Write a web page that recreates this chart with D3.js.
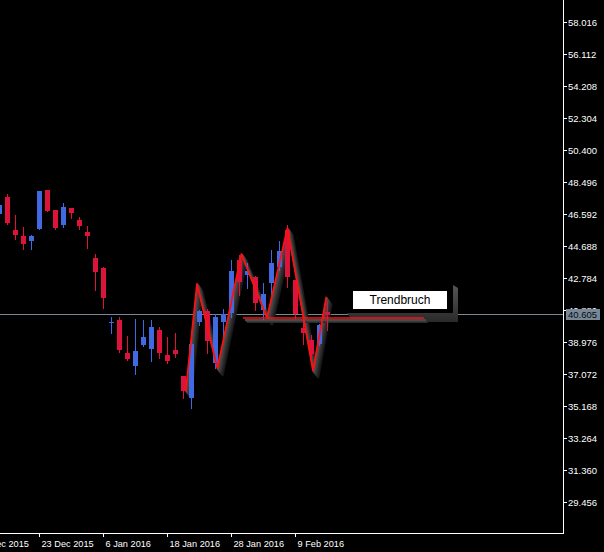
<!DOCTYPE html>
<html>
<head>
<meta charset="utf-8">
<script src="https://cdn.jsdelivr.net/npm/d3@7/dist/d3.min.js"></script>
<style>
  html, body { margin: 0; padding: 0; background: #000; }
  svg { display: block; }
</style>
</head>
<body>
<svg id="chart" width="604" height="552"></svg>
<script>
// ---- data ----
const dates = ["16 Dec 2015","17 Dec 2015","18 Dec 2015","21 Dec 2015","22 Dec 2015","23 Dec 2015","24 Dec 2015","28 Dec 2015","29 Dec 2015","30 Dec 2015","31 Dec 2015","4 Jan 2016","5 Jan 2016","6 Jan 2016","7 Jan 2016","8 Jan 2016","11 Jan 2016","12 Jan 2016","13 Jan 2016","14 Jan 2016","15 Jan 2016","18 Jan 2016","19 Jan 2016","20 Jan 2016","21 Jan 2016","22 Jan 2016","25 Jan 2016","26 Jan 2016","27 Jan 2016","28 Jan 2016","29 Jan 2016","1 Feb 2016","2 Feb 2016","3 Feb 2016","4 Feb 2016","5 Feb 2016","8 Feb 2016","9 Feb 2016","10 Feb 2016","11 Feb 2016","12 Feb 2016","15 Feb 2016"];
const barIndex = d3.range(-1, 41);
const open  = [46.59,47.60,45.64,45.28,44.99,45.70,48.02,46.83,45.94,46.95,46.23,45.52,43.97,43.38,40.15,40.28,38.32,37.55,38.80,38.56,39.69,38.20,38.50,36.95,35.64,40.17,40.82,37.73,40.17,40.70,43.85,42.96,42.84,40.88,42.49,43.44,45.64,42.67,39.81,39.09,38.86,40.76];
const high  = [47.25,47.78,46.53,45.82,45.34,47.96,48.02,46.83,47.25,46.95,46.41,45.88,44.21,43.44,40.46,40.46,39.33,40.34,40.28,40.28,39.87,39.27,39.51,36.95,39.33,40.88,40.94,40.64,40.94,43.85,44.15,43.68,42.90,42.49,44.45,44.99,45.94,42.67,40.58,39.39,40.04,41.36];
const low   = [46.47,46.00,45.11,44.51,44.51,45.70,46.77,45.70,45.82,46.35,45.70,44.57,42.07,41.00,39.51,38.38,37.90,37.07,38.74,37.85,38.02,37.73,38.08,35.64,35.05,39.99,38.32,37.43,39.27,40.46,41.77,42.19,40.88,40.34,41.83,43.26,42.25,40.40,38.86,37.90,38.80,39.69];
const close = [47.13,46.06,45.34,44.81,45.28,47.96,46.77,45.76,47.01,46.65,45.88,45.28,43.14,41.59,40.18,38.50,37.96,38.44,39.27,39.87,38.32,37.85,38.26,36.06,38.86,40.82,39.03,40.46,40.64,43.20,42.55,43.20,41.30,41.83,43.68,44.39,42.84,40.64,39.51,38.26,39.99,40.605];

const yTickLabels = ["58.016","56.112","54.208","52.304","50.400","48.496","46.592","44.688","42.784","40.880","38.976","37.072","35.168","33.264","31.360","29.456"];
const xTickIndex  = [-4, 4, 12, 20, 28, 36];
const xTickLabels = ["11 Dec 2015","23 Dec 2015","6 Jan 2016","18 Jan 2016","28 Jan 2016","9 Feb 2016"];

const zigIdx = [22.34, 23.75, 26.3, 29.3, 32.5, 35.05, 38.25, 39.92];
const zigVal = [36.02, 42.43, 37.41, 44.21, 40.42, 45.74, 37.27, 41.67];

const breakLevel = [40.40];
const breakFrom = [29.5];
const breakTo = [52.1];

const labelText = ["Trendbruch"];
const labelIdx = [49.1];
const labelVal = [41.475];

const currentPrice = [40.605];

// ---- layout ----
const svg = d3.select("#chart");
const axisX = 563, axisY = 533;

const x = d3.scaleLinear().domain([-4, 40]).range([-25, 327]);
const yVals = yTickLabels.map(Number);
const y = d3.scaleLinear().domain([d3.min(yVals), d3.max(yVals)]).range([502, 22]);

svg.append("rect").attr("width", 604).attr("height", 552).attr("fill", "#000");

const defs = svg.append("defs");
const g = svg.append("g");

// price line
const py = Math.floor(y(currentPrice[0])) + 0.5;
g.append("line").attr("x1", 0).attr("x2", axisX).attr("y1", py).attr("y2", py)
  .attr("stroke", "#778899").attr("stroke-width", 1);

// zigzag shadow (extruded look)
const zigData = zigIdx.map((k, i) => [x(k), y(zigVal[i])]);
const line = d3.line();
const shadowCols = ["#161616","#1e1e1e","#262626","#2f2f2f","#383838","#424242","#4a4a4a"];
shadowCols.forEach((c, i) => {
  const off = 7 - i;
  g.append("path").attr("d", line(zigData.map(p => [p[0] + off * 0.75, p[1] + off])))
    .attr("fill", "none").attr("stroke", c).attr("stroke-width", 2.2)
    .attr("stroke-linejoin", "round");
});

// label shadow + break line shadow
const bx = x(labelIdx[0]), byc = y(labelVal[0]);
const bw = 94, bh = 18;
const bLeft = Math.round(bx - bw / 2), bTop = Math.round(byc - bh / 2);
const grad = defs.append("linearGradient").attr("id", "sg").attr("x1", 0).attr("y1", 0).attr("x2", 0).attr("y2", 1);
grad.append("stop").attr("offset", "0%").attr("stop-color", "#555");
grad.append("stop").attr("offset", "100%").attr("stop-color", "#2a2a2a");
g.append("polygon")
  .attr("points", [
    [bLeft - 6, bTop + bh + 4], [bLeft + bw + 6, bTop + bh + 4], [bLeft + bw + 6, bTop - 6],
    [bLeft + bw + 11, bTop - 3], [bLeft + bw + 11, bTop + bh + 13], [bLeft, bTop + bh + 13]
  ].map(p => p.join(",")).join(" "))
  .attr("fill", "url(#sg)");

const ly = y(breakLevel[0]);
[["#2a2a2a", 4], ["#3a3a3a", 3], ["#4a4a4a", 2]].forEach(([c, off]) => {
  g.append("line").attr("x1", x(breakFrom[0]) + off).attr("x2", x(breakTo[0]) + off)
    .attr("y1", ly + off).attr("y2", ly + off).attr("stroke", c).attr("stroke-width", 2);
});

// candles
const candles = g.append("g");
barIndex.forEach((k, i) => {
  const o = open[i], c = close[i];
  const col = c >= o ? "#4169E1" : "#DC143C";
  const cx = Math.round(x(k));
  candles.append("line").attr("x1", cx + 0.5).attr("x2", cx + 0.5)
    .attr("y1", Math.round(y(high[i]))).attr("y2", Math.round(y(low[i])) + 1)
    .attr("stroke", col).attr("stroke-width", 1);
  const top = Math.round(y(Math.max(o, c)));
  const bot = Math.round(y(Math.min(o, c)));
  candles.append("rect").attr("x", cx - 2).attr("width", 5)
    .attr("y", top).attr("height", Math.max(1, bot - top))
    .attr("fill", col);
});

// zigzag red line
g.append("path").attr("d", line(zigData)).attr("fill", "none")
  .attr("stroke", "#ff1010").attr("stroke-width", 1.8).attr("stroke-linejoin", "round");

// break line
g.append("line").attr("x1", x(breakFrom[0])).attr("x2", x(breakTo[0]))
  .attr("y1", ly).attr("y2", ly).attr("stroke", "#ff1010").attr("stroke-width", 1.6);

// label box
g.append("rect").attr("x", bLeft).attr("y", bTop).attr("width", bw).attr("height", bh).attr("fill", "#fff");
g.append("text").attr("x", bLeft + bw / 2).attr("y", bTop + bh / 2 + 4.3)
  .attr("text-anchor", "middle").attr("font-family", "Liberation Sans, Arial, sans-serif")
  .attr("font-size", 12).attr("fill", "#000").text(labelText[0]);

// axes
svg.append("line").attr("x1", axisX + 0.5).attr("x2", axisX + 0.5).attr("y1", 0).attr("y2", axisY + 1)
  .attr("stroke", "#fff").attr("stroke-width", 1);
svg.append("line").attr("x1", 0).attr("x2", axisX + 1).attr("y1", axisY + 0.5).attr("y2", axisY + 0.5)
  .attr("stroke", "#fff").attr("stroke-width", 1);

const yAxis = d3.axisRight(y).tickValues(yVals).tickSize(4).tickPadding(1)
  .tickFormat((d, i) => yTickLabels[i]);
const ya = svg.append("g").attr("transform", `translate(${axisX},0)`).call(yAxis);
ya.select(".domain").remove();
ya.selectAll("line").attr("stroke", "#fff");
ya.selectAll("text").attr("fill", "#fff").attr("font-family", "Liberation Sans, Arial, sans-serif").attr("font-size", 9.5);

const xAxis = d3.axisBottom(x).tickValues(xTickIndex).tickSize(4).tickPadding(3)
  .tickFormat((d, i) => xTickLabels[i]);
const xa = svg.append("g").attr("transform", `translate(0,${axisY})`).call(xAxis);
xa.select(".domain").remove();
xa.selectAll("line").attr("stroke", "#fff");
xa.selectAll("text").attr("fill", "#fff").attr("text-anchor", "start").attr("x", 2)
  .attr("font-family", "Liberation Sans, Arial, sans-serif").attr("font-size", 9.2);

// current price label
svg.append("rect").attr("x", axisX + 3).attr("y", py - 5.5).attr("width", 34).attr("height", 11)
  .attr("fill", "#778899");
svg.append("text").attr("x", axisX + 5).attr("y", py + 3.5)
  .attr("font-family", "Liberation Sans, Arial, sans-serif").attr("font-size", 9.5)
  .attr("fill", "#0a0a0a").text(d3.format(".3f")(currentPrice[0]));
</script>
</body>
</html>
